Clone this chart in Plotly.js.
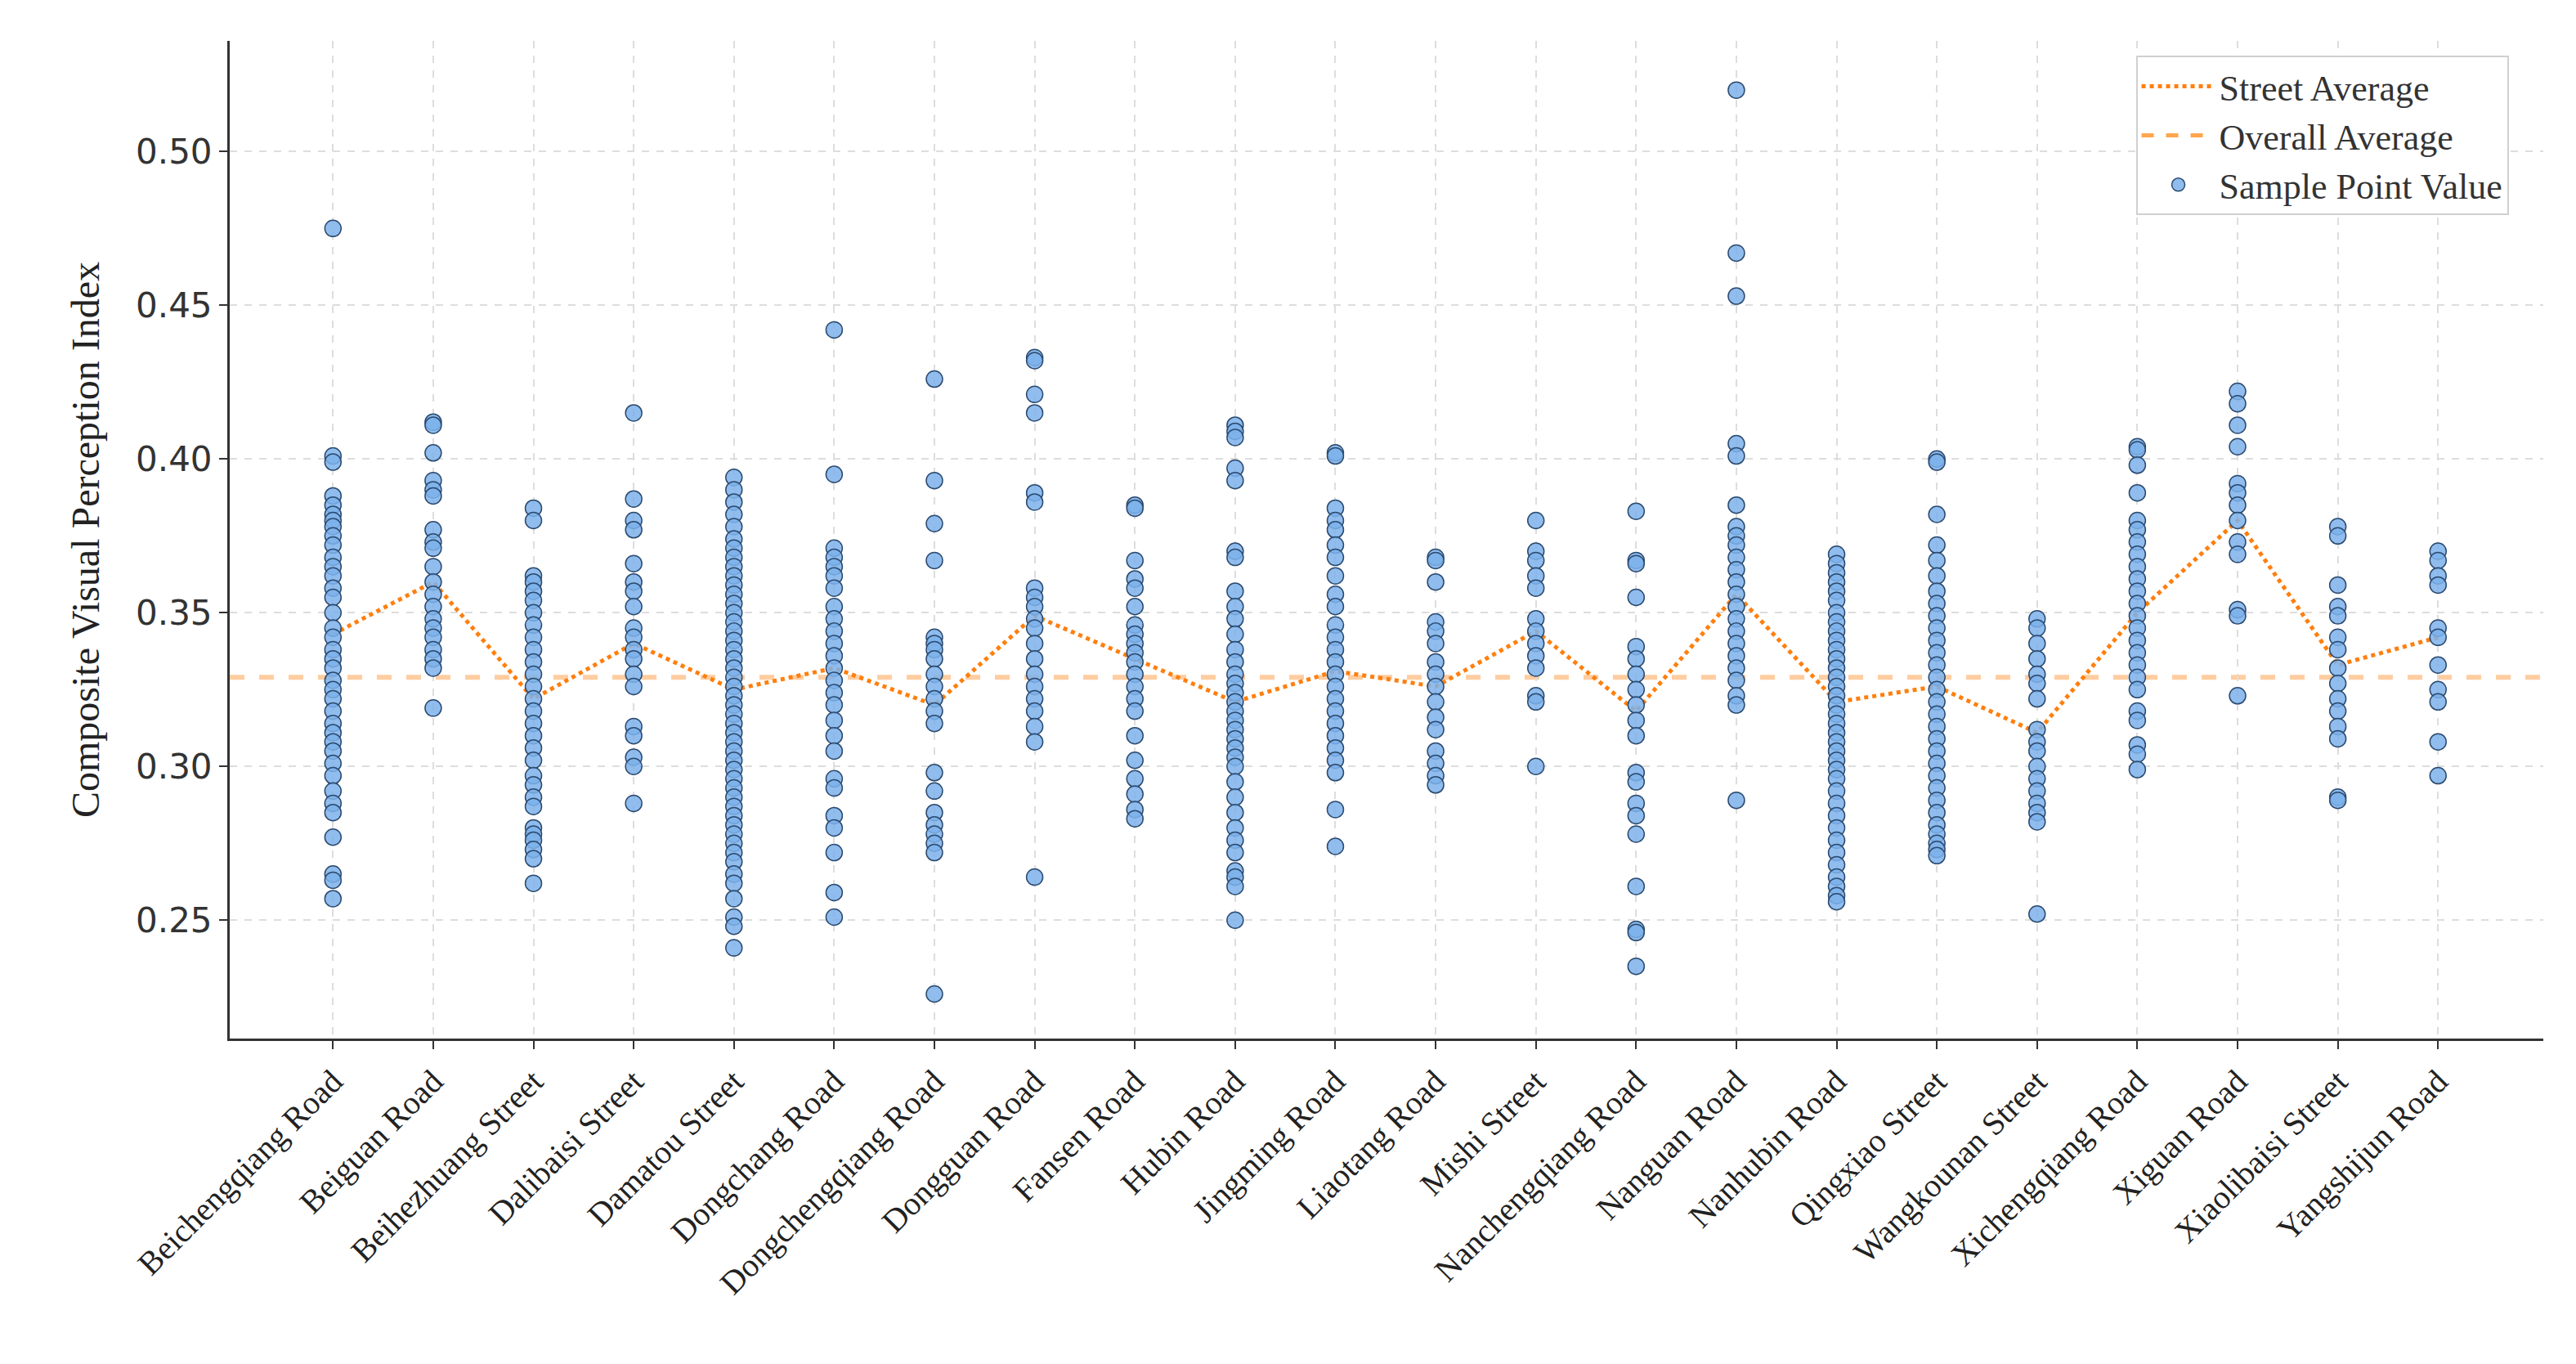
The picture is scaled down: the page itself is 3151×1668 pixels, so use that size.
<!DOCTYPE html>
<html><head><meta charset="utf-8">
<script src="https://cdn.plot.ly/plotly-3.0.1.min.js"></script>
<style>body{margin:0;background:#fff}#chart{width:3151px;height:1668px}</style>
</head><body><div id="chart"></div>
<script>
const streets = ['Beichengqiang Road','Beiguan Road','Beihezhuang Street','Dalibaisi Street','Damatou Street','Dongchang Road','Dongchengqiang Road','Dongguan Road','Fansen Road','Hubin Road','Jingming Road','Liaotang Road','Mishi Street','Nanchengqiang Road','Nanguan Road','Nanhubin Road','Qingxiao Street','Wangkounan Street','Xichengqiang Road','Xiguan Road','Xiaolibaisi Street','Yangshijun Road'];

const streetAvg = [0.343,0.360,0.322,0.340,0.325,0.332,0.320,0.349,0.335,0.321,0.331,0.326,0.344,0.318,0.356,0.321,0.326,0.311,0.350,0.380,0.333,0.342];
const overallAvg = 0.329;

const samples = [
  [0.475,0.401,0.399,0.388,0.385,0.382,0.380,0.378,0.375,0.372,0.368,0.365,0.362,0.358,0.355,0.350,0.345,0.342,0.338,0.335,0.332,0.328,0.325,0.322,0.318,0.314,0.311,0.308,0.305,0.301,0.297,0.292,0.288,0.285,0.277,0.265,0.263,0.257],
  [0.412,0.411,0.402,0.393,0.390,0.388,0.377,0.373,0.371,0.365,0.360,0.356,0.352,0.348,0.345,0.342,0.338,0.335,0.332,0.319],
  [0.384,0.380,0.362,0.360,0.357,0.354,0.350,0.346,0.342,0.338,0.334,0.330,0.326,0.322,0.318,0.314,0.310,0.306,0.302,0.297,0.294,0.290,0.287,0.280,0.278,0.276,0.273,0.270,0.262],
  [0.415,0.387,0.380,0.377,0.366,0.360,0.357,0.352,0.345,0.342,0.338,0.335,0.330,0.326,0.313,0.310,0.303,0.300,0.288],
  [0.394,0.390,0.386,0.382,0.378,0.374,0.371,0.368,0.365,0.362,0.359,0.356,0.353,0.350,0.347,0.344,0.341,0.338,0.335,0.332,0.329,0.326,0.323,0.320,0.317,0.314,0.311,0.308,0.305,0.302,0.299,0.296,0.293,0.290,0.287,0.284,0.281,0.278,0.275,0.272,0.269,0.265,0.262,0.257,0.251,0.248,0.241],
  [0.442,0.395,0.371,0.368,0.365,0.362,0.358,0.352,0.348,0.344,0.340,0.336,0.332,0.328,0.324,0.320,0.315,0.310,0.305,0.296,0.293,0.284,0.280,0.272,0.259,0.251],
  [0.426,0.393,0.379,0.367,0.342,0.340,0.338,0.335,0.330,0.326,0.322,0.318,0.314,0.298,0.292,0.285,0.281,0.278,0.275,0.272,0.226],
  [0.433,0.432,0.421,0.415,0.389,0.386,0.358,0.355,0.352,0.348,0.345,0.340,0.335,0.330,0.326,0.322,0.318,0.313,0.308,0.264],
  [0.385,0.384,0.367,0.361,0.358,0.352,0.346,0.343,0.340,0.337,0.334,0.330,0.326,0.322,0.318,0.310,0.302,0.296,0.291,0.286,0.283],
  [0.411,0.409,0.407,0.397,0.393,0.370,0.368,0.357,0.352,0.348,0.343,0.338,0.334,0.330,0.327,0.324,0.321,0.318,0.315,0.312,0.309,0.306,0.303,0.300,0.295,0.290,0.285,0.280,0.276,0.272,0.266,0.264,0.261,0.250],
  [0.402,0.401,0.384,0.380,0.377,0.372,0.368,0.362,0.356,0.352,0.346,0.342,0.338,0.334,0.330,0.326,0.322,0.318,0.314,0.310,0.306,0.302,0.298,0.286,0.274],
  [0.368,0.367,0.360,0.347,0.344,0.340,0.334,0.330,0.326,0.321,0.316,0.312,0.305,0.301,0.297,0.294],
  [0.380,0.370,0.367,0.362,0.358,0.348,0.344,0.340,0.336,0.332,0.323,0.321,0.300],
  [0.383,0.367,0.366,0.355,0.339,0.335,0.330,0.325,0.320,0.315,0.310,0.298,0.295,0.288,0.284,0.278,0.261,0.247,0.246,0.235],
  [0.520,0.467,0.453,0.405,0.401,0.385,0.378,0.375,0.372,0.368,0.364,0.360,0.356,0.352,0.348,0.344,0.340,0.336,0.332,0.328,0.323,0.320,0.289],
  [0.369,0.366,0.363,0.360,0.357,0.354,0.350,0.347,0.344,0.341,0.338,0.335,0.332,0.329,0.326,0.323,0.320,0.317,0.314,0.311,0.308,0.305,0.302,0.299,0.296,0.292,0.288,0.284,0.280,0.276,0.272,0.268,0.264,0.261,0.258,0.256],
  [0.400,0.399,0.382,0.372,0.367,0.362,0.357,0.353,0.349,0.345,0.341,0.337,0.333,0.329,0.325,0.321,0.317,0.313,0.309,0.305,0.301,0.297,0.293,0.289,0.285,0.281,0.278,0.275,0.273,0.271],
  [0.348,0.345,0.340,0.335,0.330,0.327,0.322,0.312,0.308,0.305,0.300,0.296,0.292,0.288,0.285,0.282,0.252],
  [0.404,0.403,0.398,0.389,0.380,0.377,0.373,0.369,0.365,0.361,0.357,0.353,0.349,0.345,0.341,0.337,0.333,0.329,0.325,0.318,0.315,0.307,0.304,0.299],
  [0.422,0.418,0.411,0.404,0.392,0.389,0.385,0.380,0.373,0.369,0.351,0.349,0.323],
  [0.378,0.375,0.359,0.352,0.349,0.342,0.338,0.332,0.327,0.322,0.318,0.313,0.309,0.290,0.289],
  [0.370,0.367,0.362,0.359,0.345,0.342,0.333,0.325,0.321,0.308,0.297]
];

const px = [], py = [];
samples.forEach((vals, i) => vals.forEach(v => { px.push(streets[i]); py.push(v) }));

const avgColor = 'rgba(255,200,150,0.9)';

const traces = [
  { x: streets, y: streetAvg, type: 'scatter', mode: 'lines', name: 'Street Average',
    line: { color: '#ff7f0e', dash: 'dot', width: 5 } },
  // legend entry only; the line itself spans the full plot width as a shape
  { x: [streets[0]], y: [overallAvg], type: 'scatter', mode: 'lines',
    name: 'Overall Average', line: { color: '#ffa64d', dash: 'dash', width: 5 } },
  { x: px, y: py, type: 'scatter', mode: 'markers', name: 'Sample Point Value',
    marker: { size: 20, color: 'rgba(125,178,235,0.85)', line: { color: '#2b4a6f', width: 1.5 } } }
];

const serif = 'Liberation Serif, serif';
const layout = {
  width: 3151, height: 1668,
  paper_bgcolor: '#fff', plot_bgcolor: '#fff',
  margin: { l: 281, r: 40, t: 50, b: 398 },
  showlegend: true,
  legend: { x: 0.985, y: 0.985, xanchor: 'right', yanchor: 'top', bgcolor: '#fff',
    bordercolor: '#d0d0d0', borderwidth: 2, itemwidth: 90, font: { family: serif, size: 44, color: '#333' } },
  shapes: [{ type: 'line', xref: 'paper', x0: 0, x1: 1, yref: 'y', y0: overallAvg, y1: overallAvg,
    line: { color: avgColor, dash: 'dash', width: 6 }, layer: 'below' }],
  xaxis: {
    type: 'category', categoryarray: streets, range: [-1.03, 22.05],
    tickangle: -45, tickfont: { family: serif, size: 40, color: '#222' },
    showgrid: true, gridcolor: '#dddddd', griddash: 'dash', gridwidth: 2,
    showline: true, linecolor: '#333', linewidth: 3, ticks: 'outside', ticklen: 10, tickcolor: '#333', tickwidth: 2
  },
  yaxis: {
    range: [0.2115, 0.536], tickvals: [0.25, 0.30, 0.35, 0.40, 0.45, 0.50], tickformat: '.2f',
    tickfont: { family: 'DejaVu Sans, sans-serif', size: 42, color: '#333' },
    title: { text: 'Composite Visual Perception Index', font: { family: serif, size: 48, color: '#222' }, standoff: 30 },
    showgrid: true, gridcolor: '#dddddd', griddash: 'dash', gridwidth: 2, zeroline: false,
    showline: true, linecolor: '#333', linewidth: 3, ticks: 'outside', ticklen: 10, tickcolor: '#333', tickwidth: 2
  }
};

Plotly.newPlot('chart', traces, layout, { displaylogo: false, displayModeBar: false });
</script></body></html>
